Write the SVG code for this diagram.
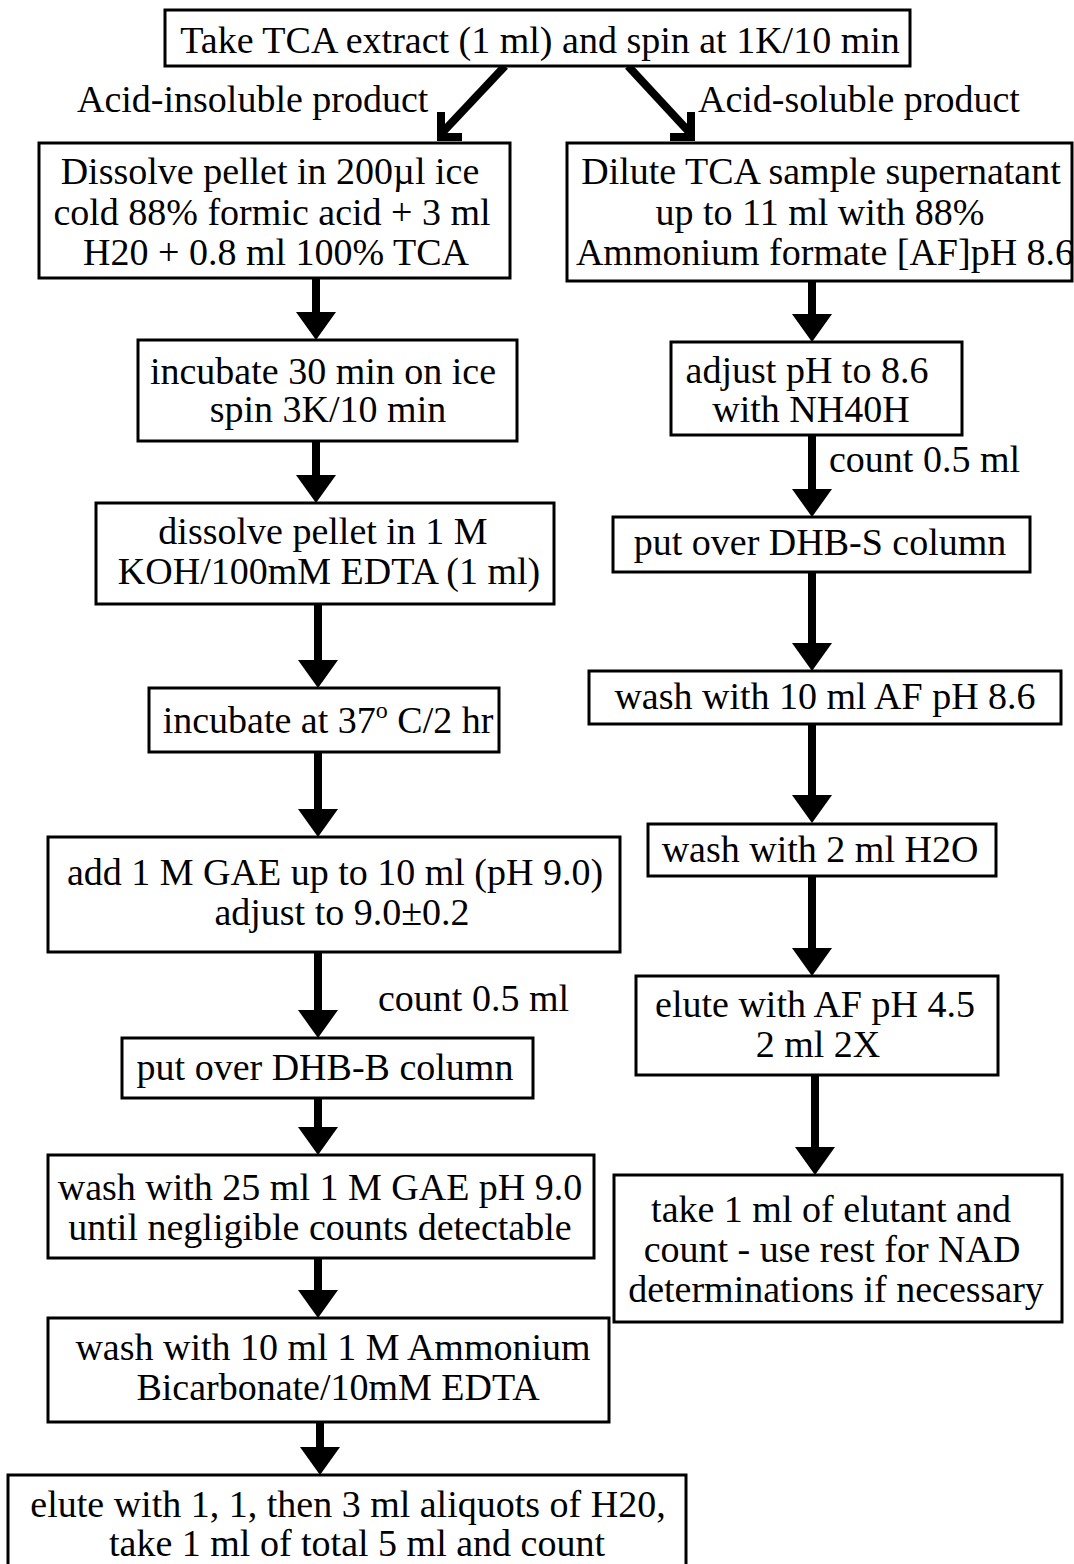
<svg xmlns="http://www.w3.org/2000/svg" width="1074" height="1564" viewBox="0 0 1074 1564">
  <style>
    .box { fill: #fff; stroke: #000; stroke-width: 3; }
    .t { font-family: "Liberation Serif", "Times New Roman", serif; font-size: 38px; fill: #000; text-anchor: middle; }
    .lbl { font-family: "Liberation Serif", "Times New Roman", serif; font-size: 38px; fill: #000; }
    .shaft { stroke: #000; stroke-width: 8; fill: none; }
    .head { fill: #000; }
  </style>
  <defs>
    <polygon id="tri" points="-20,0 20,0 0,28" class="head"/>
  </defs>
  <rect width="1074" height="1564" fill="#fff"/>

  <!-- connectors -->
  <g id="connectors">
    <!-- split from the first step -->
    <line class="shaft" x1="505" y1="66" x2="441" y2="134"/>
    <polyline class="shaft" points="441,112 441,137 462,137"/>
    <line class="shaft" x1="628" y1="66" x2="691" y2="134"/>
    <polyline class="shaft" points="691,112 691,137 670,137"/>

    <!-- acid-insoluble branch -->
    <line class="shaft" x1="316" y1="278" x2="316" y2="315"/><use href="#tri" x="316" y="312"/>
    <line class="shaft" x1="316" y1="441" x2="316" y2="478"/><use href="#tri" x="316" y="475"/>
    <line class="shaft" x1="318" y1="604" x2="318" y2="663"/><use href="#tri" x="318" y="660"/>
    <line class="shaft" x1="318" y1="752" x2="318" y2="812"/><use href="#tri" x="318" y="809"/>
    <line class="shaft" x1="318" y1="952" x2="318" y2="1013"/><use href="#tri" x="318" y="1010"/>
    <line class="shaft" x1="318" y1="1098" x2="318" y2="1130"/><use href="#tri" x="318" y="1127"/>
    <line class="shaft" x1="318" y1="1258" x2="318" y2="1293"/><use href="#tri" x="318" y="1290"/>
    <line class="shaft" x1="320" y1="1422" x2="320" y2="1450"/><use href="#tri" x="320" y="1447"/>

    <!-- acid-soluble branch -->
    <line class="shaft" x1="812" y1="281" x2="812" y2="317"/><use href="#tri" x="812" y="314"/>
    <line class="shaft" x1="812" y1="435" x2="812" y2="492"/><use href="#tri" x="812" y="489"/>
    <line class="shaft" x1="812" y1="572" x2="812" y2="646"/><use href="#tri" x="812" y="643"/>
    <line class="shaft" x1="812" y1="724" x2="812" y2="798"/><use href="#tri" x="812" y="795"/>
    <line class="shaft" x1="812" y1="876" x2="812" y2="951"/><use href="#tri" x="812" y="948"/>
    <line class="shaft" x1="815" y1="1075" x2="815" y2="1150"/><use href="#tri" x="815" y="1147"/>

    <text class="lbl" x="378" y="1011">count 0.5 ml</text>
    <text class="lbl" x="829" y="472">count 0.5 ml</text>
  </g>

  <g id="start">
    <rect class="box" x="165" y="10" width="745" height="56"/>
    <text class="t" x="540" y="53">Take TCA extract (1 ml) and spin at 1K/10 min</text>
  </g>
  <text class="lbl" x="77" y="112">Acid-insoluble product</text>
  <text class="lbl" x="698" y="112">Acid-soluble product</text>

  <!-- acid-insoluble product -->
  <g id="dissolve-pellet">
    <rect class="box" x="39" y="143" width="471" height="135"/>
    <text class="t" x="270" y="184">Dissolve pellet in 200µl ice</text>
    <text class="t" x="272" y="225">cold 88% formic acid + 3 ml</text>
    <text class="t" x="276" y="265">H20 + 0.8 ml 100% TCA</text>
  </g>
  <g id="incubate-ice">
    <rect class="box" x="138" y="340" width="379" height="101"/>
    <text class="t" x="323" y="384">incubate 30 min on ice</text>
    <text class="t" x="328" y="422">spin 3K/10 min</text>
  </g>
  <g id="dissolve-koh">
    <rect class="box" x="96" y="503" width="458" height="101"/>
    <text class="t" x="323" y="544">dissolve pellet in 1 M</text>
    <text class="t" x="329" y="584">KOH/100mM EDTA (1 ml)</text>
  </g>
  <g id="incubate-37">
    <rect class="box" x="149" y="688" width="350" height="64"/>
    <text class="t" x="328" y="733">incubate at 37<tspan font-size="24" dy="-15">o</tspan><tspan dy="15"> C/2 hr</tspan></text>
  </g>
  <g id="add-gae">
    <rect class="box" x="48" y="837" width="572" height="115"/>
    <text class="t" x="335" y="885">add 1 M GAE up to 10 ml (pH 9.0)</text>
    <text class="t" x="342" y="925">adjust to 9.0±0.2</text>
  </g>
  <g id="dhb-b">
    <rect class="box" x="122" y="1038" width="411" height="60"/>
    <text class="t" x="325" y="1080">put over DHB-B column</text>
  </g>
  <g id="wash-gae">
    <rect class="box" x="48" y="1155" width="546" height="103"/>
    <text class="t" x="320" y="1200">wash with 25 ml 1 M GAE pH 9.0</text>
    <text class="t" x="320" y="1240">until negligible counts detectable</text>
  </g>
  <g id="wash-bicarb">
    <rect class="box" x="48" y="1318" width="561" height="104"/>
    <text class="t" x="333" y="1360">wash with 10 ml 1 M Ammonium</text>
    <text class="t" x="338" y="1400">Bicarbonate/10mM EDTA</text>
  </g>
  <g id="elute-h2o">
    <rect class="box" x="8" y="1475" width="678" height="100"/>
    <text class="t" x="348" y="1517">elute with 1, 1, then 3 ml aliquots of H20,</text>
    <text class="t" x="357" y="1556">take 1 ml of total 5 ml and count</text>
  </g>

  <!-- acid-soluble product -->
  <g id="dilute">
    <rect class="box" x="567" y="143" width="505" height="138"/>
    <text class="t" x="821" y="184">Dilute TCA sample supernatant</text>
    <text class="t" x="820" y="225">up to 11 ml with 88%</text>
    <text class="t" x="825" y="265">Ammonium formate [AF]pH 8.6</text>
  </g>
  <g id="adjust-ph">
    <rect class="box" x="671" y="342" width="291" height="93"/>
    <text class="t" x="807" y="383">adjust pH to 8.6</text>
    <text class="t" x="811" y="422">with NH40H</text>
  </g>
  <g id="dhb-s">
    <rect class="box" x="613" y="517" width="417" height="55"/>
    <text class="t" x="820" y="555">put over DHB-S column</text>
  </g>
  <g id="wash-af">
    <rect class="box" x="589" y="671" width="472" height="53"/>
    <text class="t" x="825" y="709">wash with 10 ml AF pH 8.6</text>
  </g>
  <g id="wash-h2o">
    <rect class="box" x="648" y="824" width="348" height="52"/>
    <text class="t" x="820" y="862">wash with 2 ml H2O</text>
  </g>
  <g id="elute-af">
    <rect class="box" x="636" y="976" width="362" height="99"/>
    <text class="t" x="815" y="1017">elute with AF pH 4.5</text>
    <text class="t" x="818" y="1057">2 ml 2X</text>
  </g>
  <g id="take-elutant">
    <rect class="box" x="614" y="1175" width="448" height="147"/>
    <text class="t" x="831" y="1222">take 1 ml of elutant and</text>
    <text class="t" x="832" y="1262">count - use rest for NAD</text>
    <text class="t" x="836" y="1302">determinations if necessary</text>
  </g>
</svg>
